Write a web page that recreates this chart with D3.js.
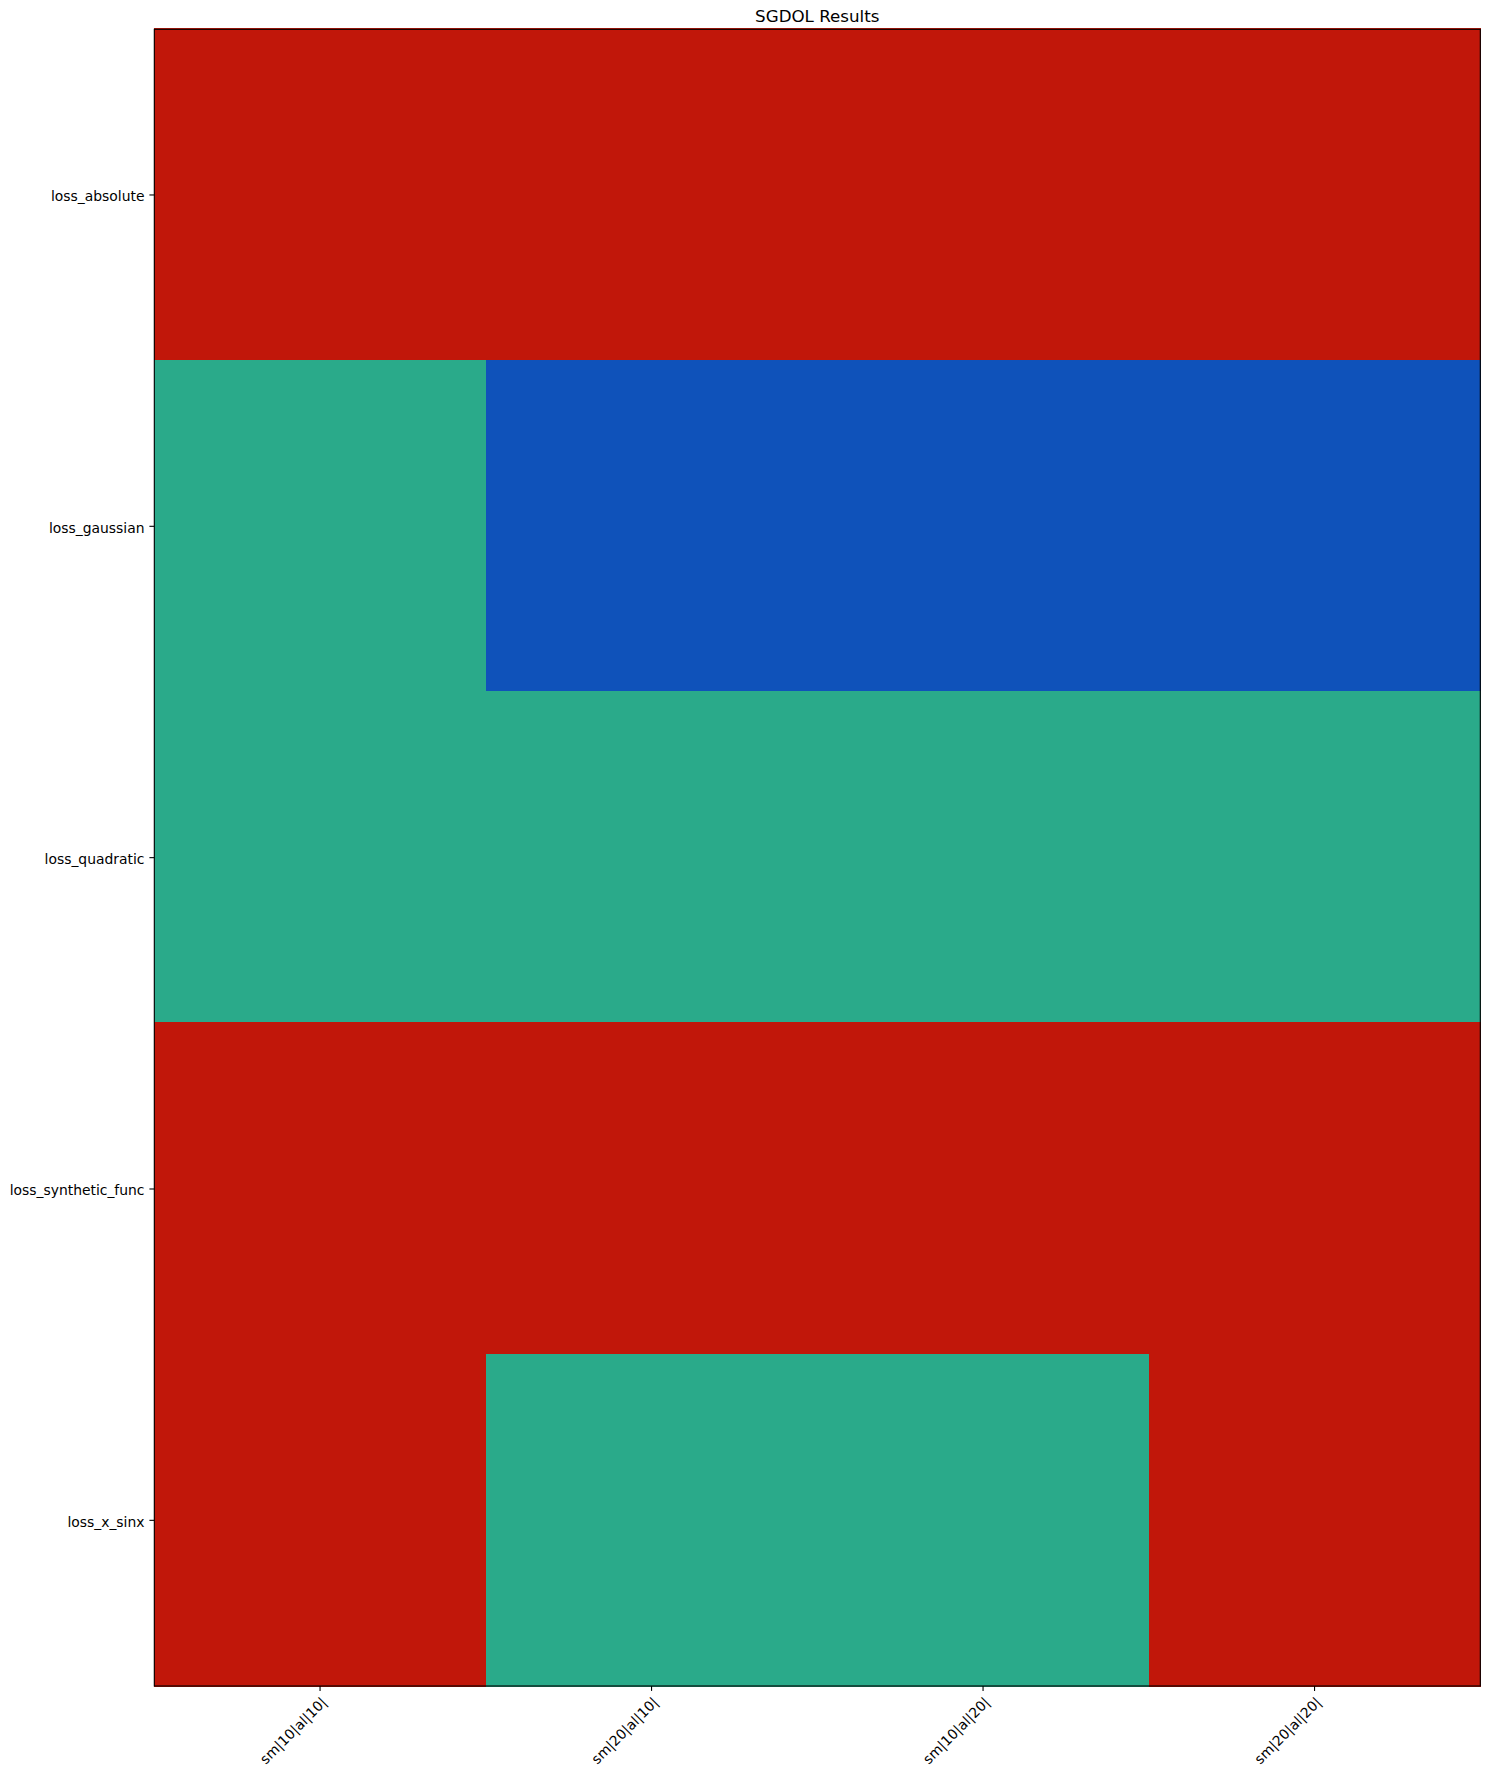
<!DOCTYPE html>
<html>
<head>
<meta charset="utf-8">
<script src="https://cdn.jsdelivr.net/npm/d3@7"></script>
<style>
  html, body { margin: 0; padding: 0; background: #ffffff; }
  svg { display: block; font-family: "DejaVu Sans", sans-serif; }
</style>
</head>
<body>
<div id="chart"></div>
<script>
// ---- data ----
const title = "SGDOL Results";
const rowLabels = ["loss_absolute", "loss_gaussian", "loss_quadratic", "loss_synthetic_func", "loss_x_sinx"];
const colLabels = ["sm|10|al|10|", "sm|20|al|10|", "sm|10|al|20|", "sm|20|al|20|"];
// status per cell: 0 = red, 1 = green, 2 = blue
const row_loss_absolute       = [0, 0, 0, 0];
const row_loss_gaussian       = [1, 2, 2, 2];
const row_loss_quadratic      = [1, 1, 1, 1];
const row_loss_synthetic_func = [0, 0, 0, 0];
const row_loss_x_sinx         = [0, 1, 1, 0];
const statusValues = [0, 1, 2];
const statusColors = ["#C1170A", "#2AAA8A", "#0F52BA"];

const matrix = [row_loss_absolute, row_loss_gaussian, row_loss_quadratic, row_loss_synthetic_func, row_loss_x_sinx];

// ---- layout ----
const W = 1489, H = 1778;
const plot = { left: 154.3, top: 29.3, right: 1480.3, bottom: 1686 };
const tickLen = 4.9, tickPad = 4.9;

const svg = d3.select("#chart").append("svg").attr("width", W).attr("height", H);
svg.append("rect").attr("width", W).attr("height", H).attr("fill", "#ffffff");

const x = d3.scaleBand().domain(colLabels).range([plot.left, plot.right]).padding(0);
const y = d3.scaleBand().domain(rowLabels).range([plot.top, plot.bottom]).padding(0);
const color = d3.scaleOrdinal().domain(statusValues).range(statusColors);

const cells = [];
matrix.forEach((row, i) => row.forEach((v, j) => cells.push({ r: rowLabels[i], c: colLabels[j], v })));

svg.append("g").selectAll("rect").data(cells).join("rect")
  .attr("x", d => x(d.c))
  .attr("y", d => y(d.r) - 1)
  .attr("width", x.bandwidth() + 0.5)
  .attr("height", y.bandwidth() + 1.5)
  .attr("fill", d => color(d.v))
  .attr("shape-rendering", "crispEdges");

// frame
svg.append("rect")
  .attr("x", plot.left).attr("y", plot.top)
  .attr("width", plot.right - plot.left).attr("height", plot.bottom - plot.top)
  .attr("fill", "none").attr("stroke", "#000").attr("stroke-width", 1.1);

// y axis
const yAxis = d3.axisLeft(y).tickSize(tickLen).tickPadding(tickPad).tickSizeOuter(0);
const gy = svg.append("g").attr("transform", `translate(${plot.left},0)`).call(yAxis);
gy.select(".domain").remove();
gy.selectAll(".tick line").attr("stroke", "#000").attr("stroke-width", 1.1);
gy.selectAll(".tick text")
  .attr("font-family", "DejaVu Sans").attr("font-size", 13.9).attr("fill", "#000")
  .attr("dy", "0.46em");

// x axis
const xAxis = d3.axisBottom(x).tickSize(tickLen).tickPadding(tickPad).tickSizeOuter(0);
const gx = svg.append("g").attr("transform", `translate(0,${plot.bottom})`).call(xAxis);
gx.select(".domain").remove();
gx.selectAll(".tick line").attr("stroke", "#000").attr("stroke-width", 1.1);
gx.selectAll(".tick text")
  .attr("font-family", "DejaVu Sans").attr("font-size", 13.9).attr("fill", "#000")
  .attr("text-anchor", "end")
  .attr("x", 0).attr("y", 0)
  .attr("dy", "0.76em")
  .attr("transform", `translate(0,${tickLen + tickPad}) rotate(-45)`);

// title
svg.append("text")
  .attr("x", (plot.left + plot.right) / 2)
  .attr("y", 21.5)
  .attr("text-anchor", "middle")
  .attr("font-family", "DejaVu Sans")
  .attr("font-size", 16.7)
  .attr("fill", "#000")
  .text(title);
</script>
</body>
</html>
